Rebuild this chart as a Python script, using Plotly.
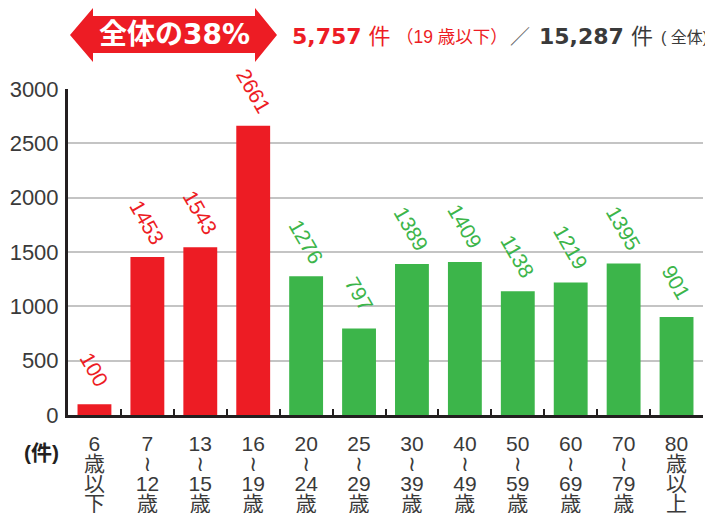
import plotly.graph_objects as go

# ---- data ----
categories = ["6歳以下", "7〜12歳", "13〜15歳", "16〜19歳", "20〜24歳", "25〜29歳",
              "30〜39歳", "40〜49歳", "50〜59歳", "60〜69歳", "70〜79歳", "80歳以上"]
tick_lines = [["6", "歳", "以", "下"], ["7", "≀", "12", "歳"], ["13", "≀", "15", "歳"],
              ["16", "≀", "19", "歳"], ["20", "≀", "24", "歳"], ["25", "≀", "29", "歳"],
              ["30", "≀", "39", "歳"], ["40", "≀", "49", "歳"], ["50", "≀", "59", "歳"],
              ["60", "≀", "69", "歳"], ["70", "≀", "79", "歳"], ["80", "歳", "以", "上"]]
values = [100, 1453, 1543, 2661, 1276, 797, 1389, 1409, 1138, 1219, 1395, 901]
groups = ["u19"] * 4 + ["all"] * 8
y_ticks = [0, 500, 1000, 1500, 2000, 2500, 3000]
y_ticklabels = ["0", "500", "1000", "1500", "2000", "2500", "3000"]

RED = "#ED1C24"
GREEN = "#3CB54A"
DARK = "#231F20"
GREY_TXT = "#3a3a3a"
color_map = {"u19": RED, "all": GREEN}
colors = [color_map[g] for g in groups]

FONT = "Liberation Sans, Arial, Noto Sans CJK JP, DejaVu Sans, sans-serif"
HFONT = "DejaVu Sans, Noto Sans CJK JP, sans-serif"
# page body has an 8px margin, so the figure is drawn 8px in from the window corner
OFF = 8
W, H = 713 - OFF, 513 - OFF
PL, PR, PT, PB = 68, 703, 89, 415          # plot area in window pixels
L, R, T, B = PL - OFF, W - (PR - OFF), PT - OFF, H - (PB - OFF)
PW, PH = W - L - R, H - T - B


def px(x):
    return (x - OFF - L) / PW


def py(y):
    return (H - B - (y - OFF)) / PH


ticktext = ["<br>".join(f"<span style='font-size:21px'>{s}</span>" for s in lines)
            for lines in tick_lines]

fig = go.Figure(go.Bar(x=categories, y=values, marker_color=colors,
                       marker_line_width=0, hoverinfo="skip"))

annotations = []
for c, v, col in zip(categories, values, colors):
    annotations.append(dict(x=c, y=v, xref="x", yref="y", text=str(v), showarrow=False,
                            textangle=60, yshift=35,
                            font=dict(family=FONT, size=21, color=col)))


def note(x, y, text, size, color, xanchor="center", family=FONT):
    return dict(x=px(x), y=py(y), xref="paper", yref="paper", text=text, showarrow=False,
                xanchor=xanchor, yanchor="middle", borderpad=0,
                font=dict(family=family, size=size, color=color))


annotations += [
    note(41, 452, "<b>(件)</b>", 21, DARK),
    note(174, 34, "<b>全体の38%</b>", 28, "white", family=HFONT),
    note(291, 36, "<b>5,757</b> 件", 22, RED, "left", HFONT),
    note(395, 37, "（19 歳以下）", 17.5, RED, "left"),
    note(509, 37, "／", 20, "#666", "left"),
    note(538, 36, "<b>15,287</b> 件", 22, GREY_TXT, "left", HFONT),
    note(709, 37, "( 全体)", 16, GREY_TXT, "right"),
]

# double-headed arrow banner
pts = [(70, 35), (93, 8), (93, 16), (255, 16), (255, 8), (277, 35),
       (255, 62), (255, 53), (93, 53), (93, 62)]
path = "M " + " L ".join(f"{px(a):.5f},{py(b):.5f}" for a, b in pts) + " Z"
shapes = [dict(type="path", path=path, xref="paper", yref="paper",
               fillcolor=RED, line=dict(width=0), layer="below")]

fig.update_layout(
    width=W, height=H, autosize=False,
    margin=dict(l=L, r=R, t=T, b=B, pad=0, autoexpand=False),
    paper_bgcolor="white", plot_bgcolor="white",
    showlegend=False, bargap=0.36,
    font=dict(family=FONT, color=GREY_TXT),
    annotations=annotations, shapes=shapes,
    xaxis=dict(type="category", tickmode="array", tickvals=categories, ticktext=ticktext,
               tickson="boundaries", ticks="inside", ticklen=6, tickwidth=2, tickcolor=DARK,
               showline=True, linewidth=3, linecolor=DARK, showgrid=False, automargin=False,
               ticklabelstandoff=14,
               tickfont=dict(family=FONT, size=15.5, color=GREY_TXT)),
    yaxis=dict(range=[0, 3000], tickmode="array", tickvals=y_ticks, ticktext=y_ticklabels,
               showline=True, linewidth=3, linecolor=DARK, showgrid=True, automargin=False,
               gridcolor="#c4c4c4", gridwidth=1.5, zeroline=False, ticks="",
               ticklabelstandoff=2,
               tickfont=dict(family=FONT, size=22, color=GREY_TXT)),
)

fig.write_html("out.html")
